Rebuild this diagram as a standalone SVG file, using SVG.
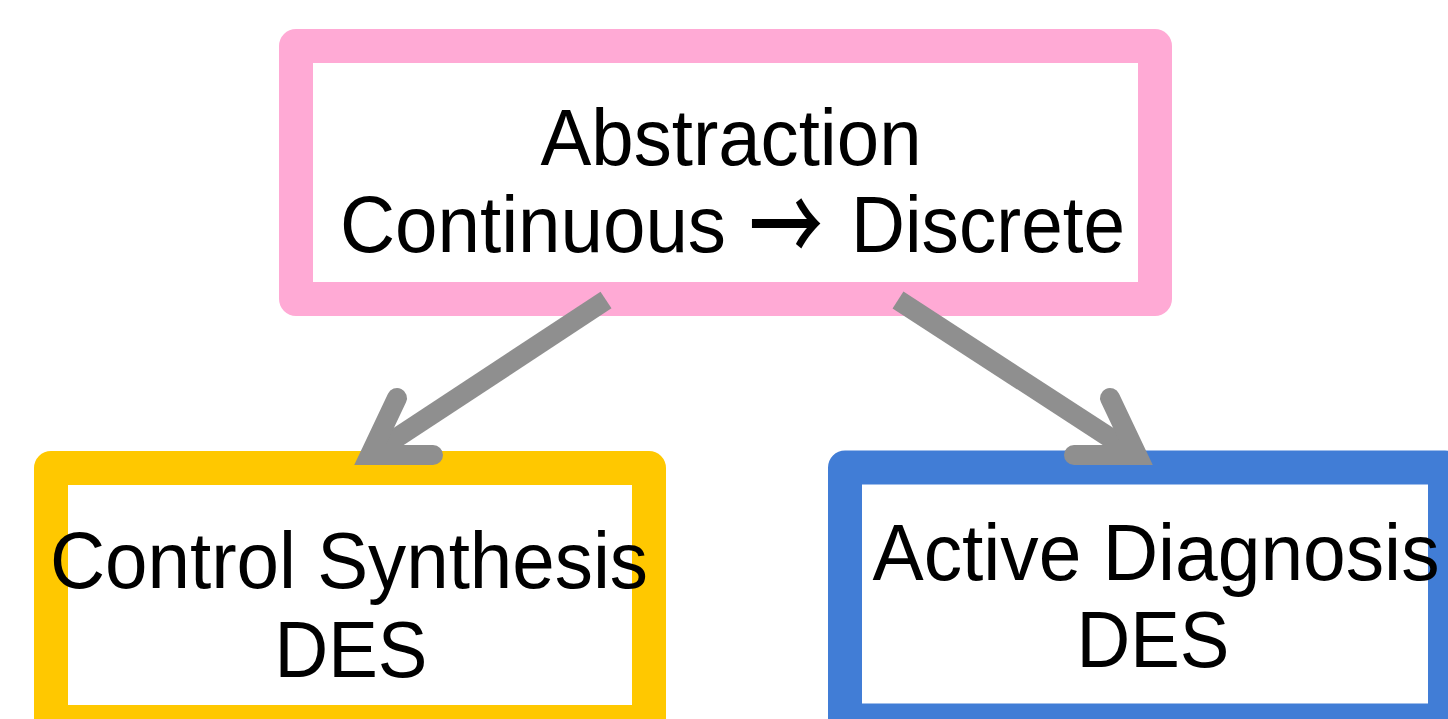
<svg xmlns="http://www.w3.org/2000/svg" width="1448" height="719" viewBox="0 0 1448 719">
<style>
.box{fill:#ffffff;stroke-width:34;stroke-linejoin:round}
.t{font-family:"Liberation Sans",Arial,sans-serif;font-size:80px;fill:#000000;text-anchor:middle}
.arr{font-family:"Noto Sans CJK JP","Noto Sans CJK SC",sans-serif;font-size:100px;font-weight:500;fill:#000000;text-anchor:middle}
.shaft{fill:none;stroke:#8f8f8f;stroke-width:20;stroke-linecap:butt}
.head{fill:none;stroke:#8f8f8f;stroke-width:20;stroke-linecap:round;stroke-linejoin:miter;stroke-miterlimit:10}
</style>
<rect width="1448" height="719" fill="#ffffff"/>
<g id="abstraction">
<rect class="box" x="296" y="46" width="859" height="253" stroke="#ffaad5"/>
<text class="t" x="731" y="165" textLength="381" lengthAdjust="spacingAndGlyphs">Abstraction</text>
<text class="t" x="533" y="252" textLength="386" lengthAdjust="spacingAndGlyphs">Continuous</text>
<text class="arr" transform="translate(786,263) scale(0.74,1.06)" x="0" y="0">→</text>
<text class="t" x="988" y="252" textLength="274" lengthAdjust="spacingAndGlyphs">Discrete</text>
</g>
<g id="control">
<rect class="box" x="51" y="468" width="598" height="254" stroke="#ffc800"/>
<text class="t" x="349" y="588" textLength="598" lengthAdjust="spacingAndGlyphs">Control Synthesis</text>
<text class="t" x="351" y="677" textLength="153" lengthAdjust="spacingAndGlyphs">DES</text>
</g>
<g id="diagnosis">
<rect class="box" x="845" y="467.5" width="600" height="253" stroke="#417dd6"/>
<text class="t" x="1156" y="580" textLength="567" lengthAdjust="spacingAndGlyphs">Active Diagnosis</text>
<text class="t" x="1153" y="667" textLength="153" lengthAdjust="spacingAndGlyphs">DES</text>
</g>
<g id="connectors">
<line class="shaft" x1="606" y1="300" x2="372" y2="454"/>
<polyline class="head" points="397,398 370,455 433,455"/>
<line class="shaft" x1="898" y1="300" x2="1135" y2="454"/>
<polyline class="head" points="1110,398 1137,455 1074,455"/>
</g>
</svg>
